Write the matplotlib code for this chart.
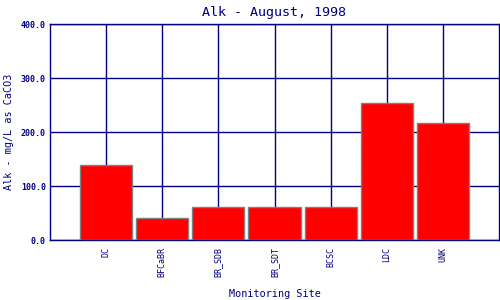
import matplotlib
matplotlib.use("Agg")
import matplotlib.pyplot as plt

categories = ["DC", "BFCaBR", "BR_SDB", "BR_SDT", "BCSC", "LDC", "UNK"]
values = [138, 40, 62, 60.5, 60.5, 253, 216]
yticks = [0, 100, 200, 300, 400]
ytick_labels = ["0.0", "100.0", "200.0", "300.0", "400.0"]

navy = "#000080"
fig = plt.figure(figsize=(5, 3), dpi=100)
ax = fig.add_axes([0.1, 0.2, 0.898, 0.72])
plt.rcParams['font.family'] = ['DejaVu Sans Mono']

x = list(range(1, len(categories) + 1))
ax.bar(x, values, width=0.93, color="#ff0000", edgecolor="#808080", linewidth=1, zorder=3)
ax.set_xlim(0, len(categories) + 1)
ax.set_ylim(0, 400)
ax.set_xticks(x)
ax.set_xticklabels(categories, rotation=90, fontsize=6, color=navy, family="DejaVu Sans Mono")
ax.set_yticks(yticks)
ax.set_yticklabels(ytick_labels, fontsize=6, color=navy, family="DejaVu Sans Mono", fontweight="bold")
ax.tick_params(axis="both", length=0)
ax.tick_params(axis="y", pad=3)
ax.tick_params(axis="x", pad=5)
ax.grid(True, color=navy, linewidth=1, zorder=0)
ax.set_axisbelow(True)
for s in ax.spines.values():
    s.set_color(navy)
    s.set_linewidth(1)
    s.set_zorder(2)

ax.set_title("Alk - August, 1998", fontsize=9.6, color=navy, family="DejaVu Sans Mono", pad=6)
ax.set_xlabel("Monitoring Site", fontsize=7.3, color=navy, family="DejaVu Sans Mono", labelpad=8.5)
ax.set_ylabel("Alk - mg/L as CaCO3", fontsize=7.3, color=navy, family="DejaVu Sans Mono", labelpad=5)

fig.savefig("out.png", dpi=100)
